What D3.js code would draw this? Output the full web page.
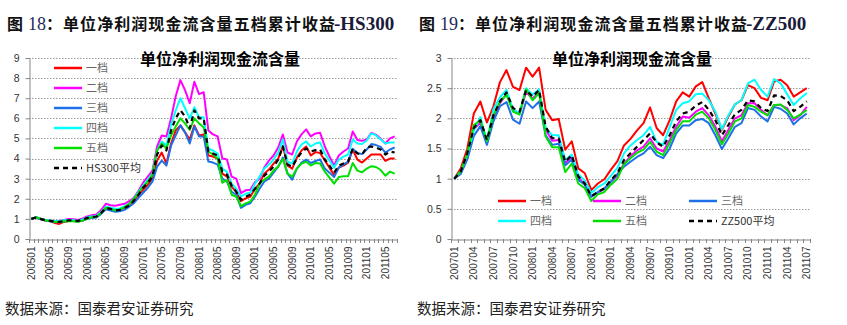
<!DOCTYPE html>
<html><head><meta charset="utf-8">
<script src="https://cdn.jsdelivr.net/npm/d3@7/dist/d3.min.js"></script>
<style>body{margin:0;background:#fff}svg{display:block}</style>
</head><body>
<svg id="c" width="847" height="325"></svg>
<script>
// ---------------- data ----------------
const hsMonths = ["200501","200502","200503","200504","200505","200506","200507","200508","200509","200510","200511","200512",
"200601","200602","200603","200604","200605","200606","200607","200608","200609","200610","200611","200612",
"200701","200702","200703","200704","200705","200706","200707","200708","200709","200710","200711","200712",
"200801","200802","200803","200804","200805","200806","200807","200808","200809","200810","200811","200812",
"200901","200902","200903","200904","200905","200906","200907","200908","200909","200910","200911","200912",
"201001","201002","201003","201004","201005","201006","201007","201008","201009","201010","201011","201012",
"201101","201102","201103","201104","201105","201106","201107"];
const hsTickLabels = ["200501","200505","200509","200601","200605","200609","200701","200705","200709","200801","200805","200809","200901","200905","200909","201001","201005","201009","201101","201105"];
const hsYTicks = [0,1,2,3,4,5,6,7,8,9];

const hsTier1 = [1.0,1.07,0.98,0.92,0.88,0.8,0.75,0.85,0.9,0.9,0.88,0.92,1.02,1.08,1.1,1.3,1.55,1.5,1.42,1.45,
1.55,1.7,1.9,2.2,2.45,2.7,3.0,3.9,4.3,3.75,4.75,5.4,5.65,5.3,4.95,5.65,5.15,5.2,4.15,4.1,
4.0,3.25,3.1,2.6,2.35,1.88,2.02,2.1,2.5,2.75,3.25,3.45,3.75,4.0,4.62,3.65,3.5,4.05,4.4,4.6,
4.15,4.32,4.28,3.9,3.55,3.18,3.55,3.65,3.8,4.45,3.95,3.8,4.0,4.2,4.2,4.2,3.88,4.0,4.0];
const hsTier2 = [1.0,1.08,1.0,0.95,0.92,0.9,0.88,0.95,1.0,0.98,0.95,1.02,1.12,1.18,1.22,1.45,1.75,1.68,1.65,1.7,
1.75,1.88,2.05,2.4,2.8,3.1,3.4,4.6,5.15,5.1,6.0,7.1,7.9,7.4,6.75,7.82,7.2,7.3,5.4,5.2,
5.1,4.0,3.95,3.1,3.0,2.28,2.42,2.45,2.82,3.0,3.55,3.9,4.15,4.55,5.2,4.3,4.2,4.85,5.2,5.45,
5.1,5.25,5.28,4.6,4.1,3.65,4.15,4.35,4.5,5.35,4.92,4.88,4.95,5.28,5.18,4.98,4.75,5.0,5.1];
const hsTier3 = [1.0,1.07,0.98,0.92,0.88,0.85,0.83,0.87,0.9,0.9,0.87,0.92,1.0,1.05,1.07,1.25,1.48,1.42,1.35,1.38,
1.45,1.6,1.78,2.05,2.3,2.55,2.85,3.6,3.9,3.65,4.65,5.15,5.65,5.3,4.75,5.6,5.1,5.1,3.85,3.8,
3.7,3.0,2.85,2.35,2.2,1.55,1.7,1.78,2.1,2.5,2.85,3.0,3.3,3.6,4.05,3.25,2.95,3.5,3.8,3.95,
3.78,3.88,3.95,3.5,3.3,3.08,3.55,3.7,3.85,4.48,4.28,4.22,4.45,4.72,4.67,4.58,4.3,4.45,4.55];
const hsTier4 = [1.0,1.08,1.0,0.95,0.92,0.9,0.88,0.93,0.95,0.93,0.9,0.97,1.08,1.12,1.15,1.35,1.6,1.55,1.5,1.52,
1.62,1.75,2.0,2.35,2.65,2.95,3.25,4.4,4.85,4.65,5.7,6.4,7.0,6.5,6.0,6.55,6.05,6.05,4.5,4.4,
4.25,3.5,3.35,2.75,2.5,2.1,2.25,2.3,2.75,3.1,3.5,3.7,3.95,4.3,4.95,3.85,3.75,4.35,4.7,4.85,
4.6,4.75,4.8,4.25,3.9,3.55,3.95,4.1,4.2,4.95,4.75,4.72,4.9,5.25,5.15,4.95,4.75,4.8,4.8];
const hsTier5 = [1.0,1.08,1.0,0.93,0.9,0.86,0.85,0.88,0.9,0.88,0.86,0.92,1.02,1.08,1.1,1.32,1.55,1.5,1.42,1.47,
1.58,1.75,2.0,2.3,2.6,2.85,3.2,4.4,4.75,4.5,5.15,5.6,6.0,5.75,5.42,6.0,5.75,5.55,4.35,4.2,
4.0,2.8,2.93,2.2,2.1,1.64,1.77,1.86,2.2,2.75,2.95,3.1,3.4,3.6,3.98,3.25,3.1,3.5,3.75,3.84,
3.65,3.78,3.75,3.35,3.05,2.75,3.08,3.12,3.13,3.78,3.4,3.32,3.5,3.62,3.58,3.43,3.15,3.35,3.25];
const hsAvg = [1.0,1.07,1.0,0.93,0.9,0.87,0.85,0.9,0.93,0.92,0.9,0.95,1.05,1.1,1.12,1.3,1.55,1.5,1.42,1.45,
1.55,1.65,1.9,2.2,2.55,2.8,3.1,4.2,4.65,4.4,5.4,6.0,6.4,6.1,5.5,6.4,6.0,6.0,4.35,4.25,
4.15,3.35,3.2,2.65,2.35,1.95,2.1,2.2,2.5,2.75,3.15,3.35,3.6,3.95,4.6,3.7,3.6,4.0,4.3,4.5,
4.35,4.42,4.45,3.95,3.65,3.3,3.65,3.75,3.85,4.5,4.25,4.2,4.55,4.6,4.55,4.45,4.2,4.35,4.3];

const zzMonths = ["200701","200702","200703","200704","200705","200706","200707","200708","200709","200710","200711","200712",
"200801","200802","200803","200804","200805","200806","200807","200808","200809","200810","200811","200812",
"200901","200902","200903","200904","200905","200906","200907","200908","200909","200910","200911","200912",
"201001","201002","201003","201004","201005","201006","201007","201008","201009","201010","201011","201012",
"201101","201102","201103","201104","201105","201106","201107"];
const zzTickLabels = ["200701","200704","200707","200710","200801","200804","200807","200810","200901","200904","200907","200910","201001","201004","201007","201010","201101","201104","201107"];
const zzYTicks = [0,0.5,1,1.5,2,2.5,3];

const zzTier1 = [1.0,1.17,1.5,2.08,2.28,1.93,2.2,2.6,2.8,2.52,2.47,2.84,2.69,2.84,2.14,1.97,1.99,1.48,1.62,1.17,
1.09,0.81,0.92,0.99,1.15,1.29,1.55,1.66,1.8,1.92,2.18,1.84,1.72,1.97,2.28,2.43,2.36,2.53,2.6,2.33,
2.08,1.81,2.03,2.23,2.3,2.55,2.5,2.34,2.3,2.61,2.64,2.55,2.36,2.43,2.5];
const zzTier2 = [1.0,1.12,1.4,1.82,1.93,1.6,2.02,2.25,2.4,2.14,2.08,2.43,2.33,2.43,1.82,1.63,1.64,1.26,1.36,1.02,
0.9,0.7,0.77,0.83,0.95,1.05,1.25,1.37,1.47,1.53,1.67,1.5,1.45,1.64,1.86,2.03,2.01,2.11,2.17,2.05,
1.86,1.62,1.81,2.0,2.05,2.25,2.25,2.14,2.05,2.22,2.22,2.17,1.97,2.05,2.19];
const zzTier3 = [1.0,1.08,1.32,1.71,1.87,1.56,1.95,2.2,2.27,1.98,1.91,2.28,2.17,2.28,1.72,1.56,1.58,1.22,1.32,0.98,
0.9,0.7,0.78,0.84,0.95,1.08,1.2,1.28,1.36,1.42,1.53,1.39,1.34,1.5,1.75,1.88,1.88,1.97,1.99,1.92,
1.72,1.49,1.67,1.86,1.92,2.17,2.14,2.03,1.95,2.19,2.16,2.08,1.9,2.0,2.08];
const zzTier4 = [1.0,1.12,1.4,1.8,2.02,1.62,2.15,2.35,2.47,2.15,2.09,2.5,2.39,2.48,1.84,1.72,1.72,1.31,1.4,1.07,
0.97,0.76,0.86,0.92,1.05,1.18,1.42,1.55,1.64,1.72,1.86,1.61,1.56,1.86,2.14,2.25,2.28,2.4,2.41,2.3,
2.11,1.82,2.05,2.23,2.3,2.58,2.64,2.47,2.36,2.65,2.58,2.4,2.22,2.33,2.42];
const zzTier5 = [1.0,1.12,1.42,1.89,1.97,1.62,2.05,2.28,2.39,2.11,2.06,2.48,2.3,2.42,1.7,1.52,1.52,1.11,1.25,0.92,
0.84,0.63,0.74,0.78,0.9,1.0,1.24,1.34,1.43,1.48,1.61,1.45,1.39,1.59,1.81,1.95,1.95,2.06,2.11,2.0,
1.81,1.57,1.75,1.95,2.0,2.22,2.19,2.11,2.05,2.22,2.23,2.14,2.0,2.06,2.14];
const zzAvg = [1.0,1.12,1.42,1.84,1.97,1.64,2.05,2.28,2.43,2.17,2.11,2.47,2.36,2.47,1.86,1.67,1.67,1.28,1.39,1.04,
0.92,0.71,0.78,0.84,0.98,1.09,1.31,1.42,1.53,1.64,1.75,1.6,1.53,1.72,1.95,2.08,2.11,2.21,2.27,2.14,
1.97,1.72,1.89,2.07,2.14,2.3,2.28,2.17,2.12,2.38,2.37,2.3,2.12,2.19,2.28];

const tierNames = ["一档","二档","三档","四档","五档"];
const tierColors = ["#ff0000","#ff00ff","#1f6fe8","#00ffff","#00e000"];

// ---------------- drawing ----------------
const svg = d3.select("#c");
const NUM = "'Liberation Sans', Arial, sans-serif";
const CJK = "'Noto Sans CJK SC', sans-serif";

function figTitle(x0, num, tail) {
  const g = svg.append("g").attr("fill", "#111");
  g.append("text").attr("x", x0).attr("y", 30).attr("font-family", CJK).attr("font-weight", 700)
    .attr("font-size", 16).text("图");
  g.append("text").attr("x", x0 + 21).attr("y", 30).attr("font-family", "'Liberation Serif', serif")
    .attr("font-size", 18).attr("fill", "#1c2a5a").text(num);
  g.append("text").attr("x", x0 + 39).attr("y", 30).attr("font-family", CJK).attr("font-weight", 700)
    .attr("font-size", 16).attr("textLength", 289).attr("lengthAdjust", "spacing")
    .text("：单位净利润现金流含量五档累计收益");
  g.append("text").attr("x", x0 + 327).attr("y", 30).attr("font-family", "'Liberation Serif', serif")
    .attr("font-weight", 700).attr("font-size", 19).attr("fill", "#1a1a3a").text(tail);
}

function panel(p) {
  const g = svg.append("g");
  const yTop = 58, yBot = 239;
  const x = d3.scaleBand().domain(p.cats).range([p.x0, p.x1]).padding(0);
  const bw = x.bandwidth();
  const y = d3.scaleLinear().domain([0, p.yMax]).range([yBot, yTop]);

  // gridlines
  g.append("g").selectAll("line").data(p.yTicks.filter(d => d > 0)).join("line")
    .attr("x1", p.x0).attr("x2", p.x1)
    .attr("y1", d => Math.round(y(d)) + 0.5).attr("y2", d => Math.round(y(d)) + 0.5)
    .attr("stroke", "#9a9a9a").attr("stroke-width", 1).attr("stroke-dasharray", "1.5,1.5");

  // chart title
  g.append("text").attr("x", p.titleX).attr("y", 65).attr("text-anchor", "middle")
    .attr("font-family", CJK).attr("font-weight", 700).attr("font-size", 16).attr("fill", "#000")
    .text("单位净利润现金流含量");

  // y axis
  const ya = g.append("g").attr("transform", `translate(${p.x0 + 0.5},0)`)
    .call(d3.axisLeft(y).tickValues(p.yTicks).tickSize(4).tickSizeOuter(0).tickPadding(6).tickFormat(d3.format("~g")));
  ya.select(".domain").attr("stroke", "#868686");
  ya.selectAll(".tick line").attr("stroke", "#868686");
  ya.selectAll("text").attr("font-family", NUM).attr("font-size", 10.5).attr("fill", "#333");

  // x axis
  const xa = g.append("g").attr("transform", `translate(0,${yBot + 0.5})`)
    .call(d3.axisBottom(x).tickValues(p.labels).tickSize(0).tickSizeOuter(0).tickPadding(0));
  xa.select(".domain").attr("stroke", "#868686");
  xa.selectAll("text").attr("font-family", NUM).attr("font-size", 10).attr("fill", "#333")
    .attr("transform", "rotate(-90)").attr("text-anchor", "end")
    .attr("x", -7).attr("y", 0).attr("dy", "0.35em");
  // category boundary ticks
  g.append("g").selectAll("line").data(p.cats.concat(["__end"])).join("line")
    .attr("x1", d => Math.round(d === "__end" ? p.x1 : x(d)) + 0.5)
    .attr("x2", d => Math.round(d === "__end" ? p.x1 : x(d)) + 0.5)
    .attr("y1", yBot).attr("y2", yBot + 4)
    .attr("stroke", "#868686").attr("stroke-width", 1);

  // series
  const line = d3.line().x((d, i) => x(p.cats[i]) + bw / 2).y(d => y(d));
  p.series.forEach(s => {
    g.append("path").datum(s.values).attr("d", line).attr("fill", "none")
      .attr("stroke", s.color).attr("stroke-width", s.dash ? 2.2 : 2)
      .attr("stroke-dasharray", s.dash ? "5,4" : null)
      .attr("stroke-linejoin", "round");
  });

  // legend
  const lg = g.append("g");
  p.series.forEach((s, i) => {
    const pos = p.legendPos[i];
    lg.append("line").attr("x1", pos[0]).attr("x2", pos[0] + 28).attr("y1", pos[1]).attr("y2", pos[1])
      .attr("stroke", s.color).attr("stroke-width", 2.5).attr("stroke-dasharray", s.dash ? "5,4" : null);
    lg.append("text").attr("x", pos[0] + 32).attr("y", pos[1]).attr("dy", "0.36em")
      .attr("font-family", CJK).attr("font-size", 11).attr("fill", s.dash ? "#333" : "#666").text(s.name);
  });
}

function makeSeries(vals, avg, avgName) {
  const arr = vals.map((v, i) => ({ name: tierNames[i], color: tierColors[i], values: v }));
  arr.push({ name: avgName, color: "#000", dash: true, values: avg });
  return arr;
}

figTitle(7, "18", "-HS300");
figTitle(419, "19", "-ZZ500");

panel({
  cats: hsMonths, labels: hsTickLabels, x0: 29, x1: 397, yMax: 9, yTicks: hsYTicks, titleX: 220,
  series: makeSeries([hsTier1, hsTier2, hsTier3, hsTier4, hsTier5], hsAvg, "HS300平均"),
  legendPos: [[54, 68], [54, 88], [54, 108], [54, 128], [54, 148], [54, 168]]
});
panel({
  cats: zzMonths, labels: zzTickLabels, x0: 451, x1: 810, yMax: 3, yTicks: zzYTicks, titleX: 632,
  series: makeSeries([zzTier1, zzTier2, zzTier3, zzTier4, zzTier5], zzAvg, "ZZ500平均"),
  legendPos: [[498, 201], [593, 201], [689, 201], [498, 221], [593, 221], [689, 221]]
});

// source notes
[5, 417].forEach(x0 => {
  svg.append("text").attr("x", x0).attr("y", 314).attr("font-family", CJK).attr("font-size", 14.5)
    .attr("fill", "#222").text("数据来源：国泰君安证券研究");
});
</script>
</body></html>
